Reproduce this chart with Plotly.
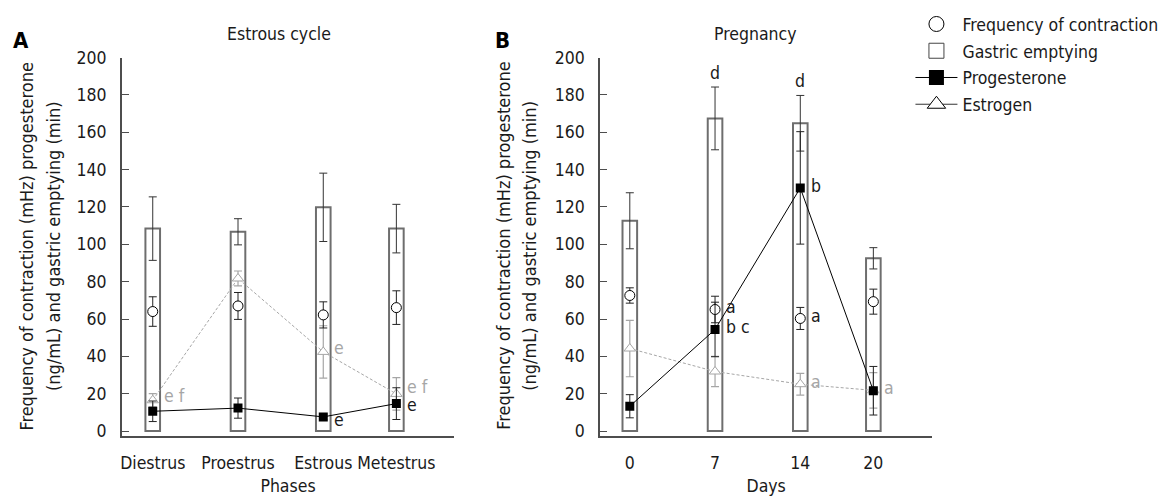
import plotly.graph_objects as go

# ---------------- data ----------------
phases = ["Diestrus", "Proestrus", "Estrous", "Metestrus"]
phase_pos = [0, 7, 14, 20]
days = [0, 7, 14, 20]
y_ticks = [0, 20, 40, 60, 80, 100, 120, 140, 160, 180, 200]

# Panel A - estrous cycle
a_gastric = [108.4, 106.7, 119.8, 108.4]
a_gastric_err = [17.0, 7.0, 18.3, 13.0]
a_freq = [64.0, 67.0, 62.2, 66.1]
a_freq_err = [7.9, 7.2, 7.0, 9.0]
a_prog = [10.6, 12.3, 7.6, 14.7]
a_prog_err = [5.5, 5.4, 1.5, 8.5]
a_estr = [16.5, 81.7, 42.4, 19.9]
a_estr_err = [3.5, 4.0, 14.0, 8.7]

# Panel B - pregnancy
b_gastric = [112.6, 167.4, 164.8, 92.5]
b_gastric_err = [15.0, 16.8, 14.9, 5.7]
b_freq = [72.6, 65.1, 60.3, 69.3]
b_freq_err = [4.1, 7.1, 5.9, 6.7]
b_prog = [13.3, 54.4, 130.2, 21.6]
b_prog_err = [6.2, 14.6, 30.1, 13.0]
b_estr = [44.2, 31.9, 25.1, 21.8]
b_estr_err = [15.1, 8.1, 5.8, 9.5]

# significance letters: (panel, index, series, text, colour group)
letters = [
    ("A", 0, "estr", "e f", "grey"),
    ("A", 2, "estr", "e", "grey"),
    ("A", 2, "prog", "e", "black"),
    ("A", 3, "estr", "e f", "grey"),
    ("A", 3, "prog", "e", "black"),
    ("B", 1, "freq", "a", "black"),
    ("B", 1, "prog", "b c", "black"),
    ("B", 1, "gastric", "d", "black"),
    ("B", 2, "gastric", "d", "black"),
    ("B", 2, "prog", "b", "black"),
    ("B", 2, "freq", "a", "black"),
    ("B", 2, "estr", "a", "grey"),
    ("B", 3, "estr", "a", "grey"),
]
# small vertical nudges (px, up positive) for letters that would collide
letter_nudge = [2, 2, -5, 5, -3, 0, 0, 0, 0, 0, 0, 0, 0]

# ---------------- styling ----------------
FONT = "DejaVu Sans Condensed, DejaVu Sans"
FS = 17.5
TXT = "#1a1a1a"
GREY = "#a6a6a6"
AXC = "#4d4d4d"
BAR_EDGE = "#6e6e6e"
W, H = 1168, 497

panels = {
    "A": dict(x=phase_pos, gastric=a_gastric, gastric_err=a_gastric_err,
              freq=a_freq, freq_err=a_freq_err, prog=a_prog, prog_err=a_prog_err,
              estr=a_estr, estr_err=a_estr_err, xa="x", ya="y"),
    "B": dict(x=days, gastric=b_gastric, gastric_err=b_gastric_err,
              freq=b_freq, freq_err=b_freq_err, prog=b_prog, prog_err=b_prog_err,
              estr=b_estr, estr_err=b_estr_err, xa="x2", ya="y2"),
}

fig = go.Figure()

for key, p in panels.items():
    common = dict(xaxis=p["xa"], yaxis=p["ya"], showlegend=False, hoverinfo="skip")
    fig.add_trace(go.Bar(
        x=p["x"], y=p["gastric"], width=1.2,
        marker=dict(color="white", line=dict(color=BAR_EDGE, width=2)),
        error_y=dict(type="data", array=p["gastric_err"], visible=True,
                     color="#333333", thickness=1, width=4),
        **common))
    fig.add_trace(go.Scatter(
        x=p["x"], y=p["estr"], mode="lines+markers",
        line=dict(color=GREY, width=1, dash="3px,2px"),
        marker=dict(symbol="triangle-up", size=10, color="white",
                    line=dict(color=GREY, width=1)),
        error_y=dict(type="data", array=p["estr_err"], visible=True,
                     color=GREY, thickness=1.2, width=4),
        **common))
    fig.add_trace(go.Scatter(
        x=p["x"], y=p["freq"], mode="markers",
        marker=dict(symbol="circle", size=10, color="white",
                    line=dict(color="black", width=1)),
        error_y=dict(type="data", array=p["freq_err"], visible=True,
                     color="#222222", thickness=1, width=4),
        **common))
    fig.add_trace(go.Scatter(
        x=p["x"], y=p["prog"], mode="lines+markers",
        line=dict(color="black", width=1),
        marker=dict(symbol="square", size=9, color="black",
                    line=dict(color="black", width=0)),
        error_y=dict(type="data", array=p["prog_err"], visible=True,
                     color="#222222", thickness=1, width=4),
        **common))

# legend-only entries
fig.add_trace(go.Scatter(x=[None], y=[None], mode="markers", name="Frequency of contraction",
                         marker=dict(symbol="circle", size=15, color="white",
                                     line=dict(color="black", width=1)),
                         legendgroup="g1"))
fig.add_trace(go.Scatter(x=[None], y=[None], mode="markers", name="Gastric emptying",
                         marker=dict(symbol="square", size=15, color="white",
                                     line=dict(color="#444444", width=1)),
                         legendgroup="g2"))
fig.add_trace(go.Scatter(x=[None], y=[None], mode="lines+markers", name="Progesterone",
                         line=dict(color="black", width=1),
                         marker=dict(symbol="square", size=15, color="black"),
                         legendgroup="g3"))
fig.add_trace(go.Scatter(x=[None], y=[None], mode="lines+markers", name="Estrogen",
                         line=dict(color="#333333", width=1),
                         marker=dict(symbol="triangle-up", size=16, color="white",
                                     line=dict(color="black", width=1)),
                         legendgroup="g4"))

# letters
annotations = []
for (panel, i, series, text, col), nudge in zip(letters, letter_nudge):
    p = panels[panel]
    xv = p["x"][i]
    if series == "gastric":
        yv = p["gastric"][i] + p["gastric_err"][i]
        annotations.append(dict(x=xv, y=yv, xref=p["xa"], yref=p["ya"], text=text,
                                showarrow=False, xanchor="center", yanchor="middle",
                                yshift=14, font=dict(family=FONT, size=FS, color=TXT)))
    else:
        yv = p[series][i]
        annotations.append(dict(x=xv, y=yv, xref=p["xa"], yref=p["ya"], text=text,
                                showarrow=False, xanchor="left", yanchor="middle",
                                xshift=9, yshift=2 + nudge,
                                font=dict(family=FONT, size=FS,
                                          color=GREY if col == "grey" else TXT)))


def px(x):
    return x / W


def py(y):
    return 1 - y / H


# panel titles and letters
for t, xx, yy, bold in [("Estrous cycle", 277, 25, False), ("Pregnancy", 755, 25, False),
                        ("<b>A</b>", 19, 31, True), ("<b>B</b>", 501, 31, True)]:
    annotations.append(dict(x=px(xx), y=py(yy), xref="paper", yref="paper", text=t,
                            showarrow=False, xanchor="center", yanchor="middle",
                            font=dict(family=FONT, size=22 if bold else FS,
                                      color="black" if bold else TXT)))

# y-axis titles (two lines each)
ytitle = ["Frequency of contraction (mHz) progesterone", "(ng/mL) and gastric emptying (min)"]
for xx, line in [(25, ytitle[0]), (51.5, ytitle[1]), (503, ytitle[0]), (529, ytitle[1])]:
    annotations.append(dict(x=px(xx), y=py(243), xref="paper", yref="paper", text=line,
                            textangle=-90, showarrow=False, xanchor="center", yanchor="middle",
                            font=dict(family=FONT, size=18, color=TXT)))

yax = dict(range=[-2.5, 200], tickvals=y_ticks, ticks="inside", ticklen=7, tickwidth=1,
           tickcolor=AXC, showline=True, linecolor=AXC, linewidth=1.5, showgrid=False,
           zeroline=False, domain=[py(439), py(49)], ticklabelstandoff=10,
           tickfont=dict(family=FONT, size=FS, color=TXT))
xax = dict(ticks="", showline=True, linecolor=AXC, linewidth=1.5, showgrid=False,
           zeroline=False, ticklabelstandoff=10, tickfont=dict(family=FONT, size=FS, color=TXT))

fig.update_layout(
    width=W, height=H, margin=dict(l=0, r=0, t=0, b=0),
    paper_bgcolor="white", plot_bgcolor="white",
    barmode="overlay",
    xaxis=dict(xax, domain=[px(120), px(453)], range=[-2.54, 24.75],
               tickvals=phase_pos, ticktext=phases,
               title=dict(text="Phases", font=dict(family=FONT, size=FS, color=TXT), standoff=8)),
    yaxis=dict(yax, anchor="x"),
    xaxis2=dict(xax, domain=[px(599), px(932)], range=[-2.45, 24.85],
                tickvals=days, ticktext=[str(d) for d in days], anchor="y2",
                title=dict(text="Days", font=dict(family=FONT, size=FS, color=TXT), standoff=8)),
    yaxis2=dict(yax, anchor="x2"),
    legend=dict(x=px(910), y=py(-4), xanchor="left", yanchor="top",
                font=dict(family=FONT, size=FS, color=TXT), tracegroupgap=1,
                itemwidth=42, bgcolor="rgba(0,0,0,0)"),
    annotations=annotations,
)

fig.write_html("out.html")
